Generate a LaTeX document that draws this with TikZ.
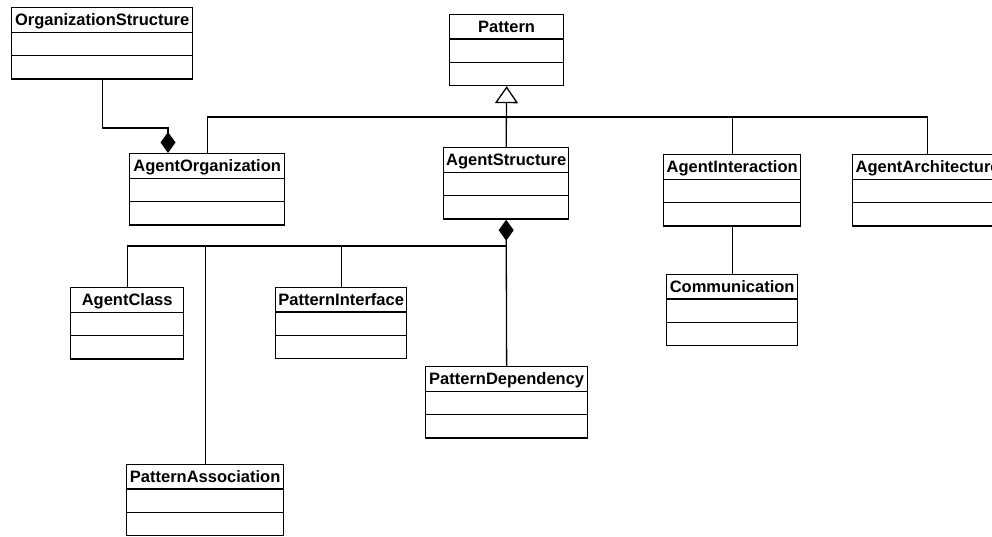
\documentclass[tikz,border=0pt]{standalone}
\usepackage{fontspec}
\setmainfont{Liberation Sans}
\usepackage{tikz}
\usetikzlibrary{arrows.meta,positioning}
\usetikzlibrary{calc}
\usetikzlibrary{shapes.multipart}

\tikzset{
  umlclass/.style={draw, line width=1.3pt, rectangle split, rectangle split parts=3,
    rectangle split empty part height=11pt, rectangle split empty part depth=5pt,
    inner xsep=1pt, inner ysep=3pt, anchor=north west,
    font=\fontsize{16.5}{18}\selectfont\bfseries},
  link/.style={line width=1.3pt},
  composition/.style={link, -{Diamond[length=21pt,width=15pt]}},
  inherit/.style={link, -{Triangle[open,length=17pt,width=23pt,fill=white]}}
}
\newcommand{\cname}[1]{\rule[-3pt]{0pt}{17pt}#1}

\begin{document}
\begin{tikzpicture}[x=1pt,y=-1pt]

        % page frame
        \useasboundingbox (0,0) rectangle (992,537);
        \clip (0,0) rectangle (992,537);

        % classes
        \node[umlclass, minimum width=181pt] (org_struct) at (11,7) {\cname{OrganizationStructure}\nodepart{second}\nodepart{third}};
        \node[umlclass, minimum width=114pt] (pattern) at (449,14) {\cname{Pattern}\nodepart{second}\nodepart{third}};
        \node[umlclass, minimum width=155pt] (agent_org) at (129,153) {\cname{AgentOrganization}\nodepart{second}\nodepart{third}};
        \node[umlclass, minimum width=125pt] (agent_struct) at (443,147) {\cname{AgentStructure}\nodepart{second}\nodepart{third}};
        \node[umlclass, minimum width=137pt] (agent_inter) at (663,154) {\cname{AgentInteraction}\nodepart{second}\nodepart{third}};
        \node[umlclass, minimum width=150pt] (agent_arch) at (852,154) {\cname{AgentArchitecture}\nodepart{second}\nodepart{third}};
        \node[umlclass, minimum width=113pt] (agent_class) at (70,287) {\cname{AgentClass}\nodepart{second}\nodepart{third}};
        \node[umlclass, minimum width=131pt] (pat_int) at (275,287) {\cname{PatternInterface}\nodepart{second}\nodepart{third}};
        \node[umlclass, minimum width=162pt] (pat_dep) at (425,366) {\cname{PatternDependency}\nodepart{second}\nodepart{third}};
        \node[umlclass, minimum width=157pt] (pat_assoc) at (126,464) {\cname{PatternAssociation}\nodepart{second}\nodepart{third}};
        \node[umlclass, minimum width=131pt] (comm) at (666,274) {\cname{Communication}\nodepart{second}\nodepart{third}};

        % organization is part of the structure
        \coordinate (org_join) at (168,128);
        \draw[composition] (org_struct.south) |- (org_join) -- (org_join |- agent_org.north);

        % pattern hierarchy
        \coordinate (gen_bar) at (506,117);
        \draw[inherit] (agent_struct.north) -- (pattern.south);
        \draw[link] (agent_org.north) |- (gen_bar) -| (agent_arch.north);
        \draw[link] (agent_inter.north) -- (agent_inter.north |- gen_bar);

        % parts of the agent structure
        \coordinate (struct_bar) at (506,246);
        \draw[composition] (pat_dep.north) -- (agent_struct.south);
        \draw[link] (agent_class.north) |- (struct_bar);
        \draw[link] (pat_int.north) -- (pat_int.north |- struct_bar);
        \draw[link] (pat_assoc.north) -- (pat_assoc.north |- struct_bar);

        % interaction
        \draw[link] (agent_inter.south) -- (comm.north);

\end{tikzpicture}
\end{document}
